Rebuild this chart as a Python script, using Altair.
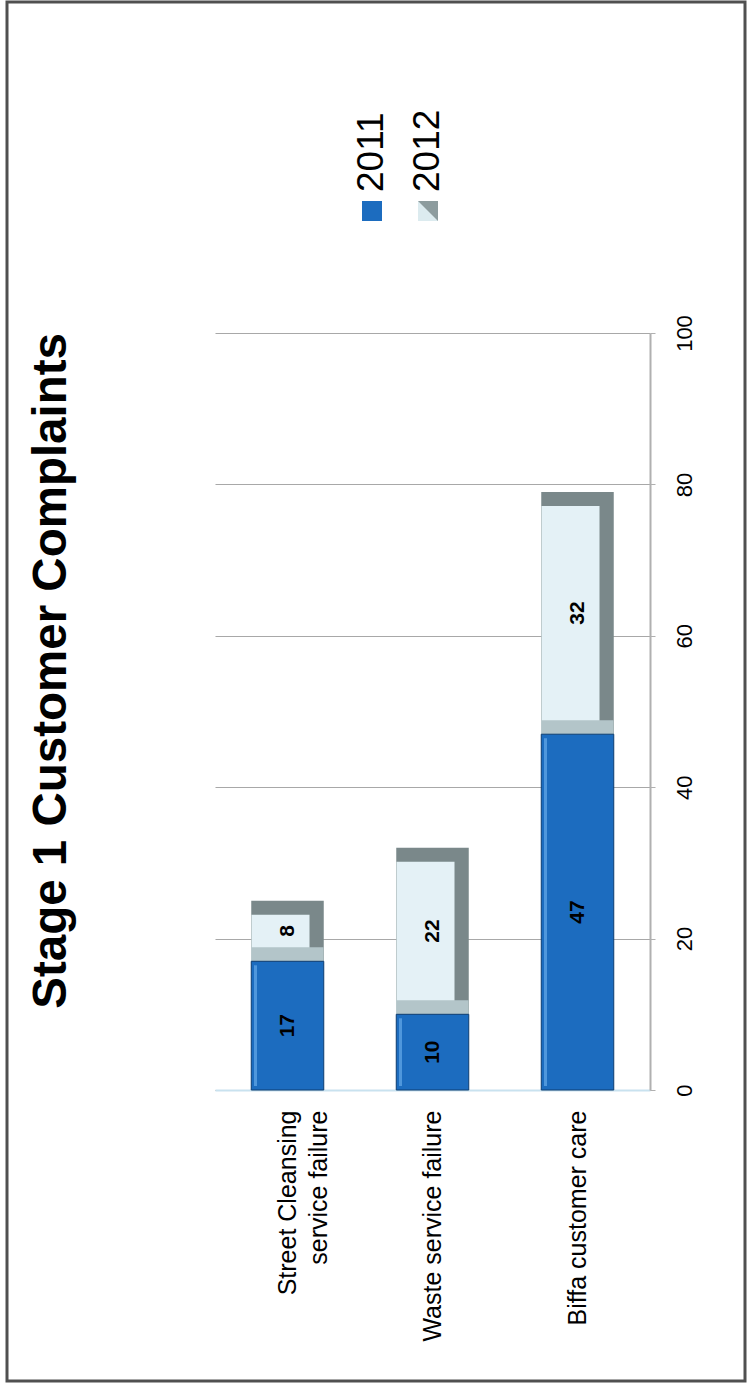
import altair as alt
import pandas as pd

categories = ["Street Cleansing service failure", "Waste service failure", "Biffa customer care"]
v2011 = [17, 10, 47]
v2012 = [8, 22, 32]
years = ["2011", "2012"]
y_ticks = [0, 20, 40, 60, 80, 100]

FONT = "Liberation Sans"
BLUE = "#1c6cbf"
LIGHT = "#e4f1f6"
BEVEL_DARK = "#7a888a"
BEVEL_LIGHT = "#b3c5c9"

df = pd.DataFrame({"category": categories, "v2011": v2011, "v2012": v2012})
df["total"] = df["v2011"] + df["v2012"]
df["mid2011"] = df["v2011"] / 2
df["mid2012"] = df["v2011"] + df["v2012"] / 2

x_scale = alt.Scale(domain=categories, paddingInner=0.5, paddingOuter=0.25)
x_axis = alt.Axis(
    title=None, labelAngle=270, labelAlign="right", labelBaseline="middle",
    labelFontSize=25, labelFont=FONT, labelColor="black", labelPadding=20,
    labelLineHeight=31, labelLimit=500, tickSize=0, domainColor="#c9e2ef", domainWidth=2,
    grid=False,
    labelExpr="datum.value == 'Street Cleansing service failure' ? ['Street Cleansing', 'service failure'] : datum.label",
)
x_enc = alt.X("category:N", scale=x_scale, axis=x_axis, sort=categories)

y_scale = alt.Scale(domain=[0, 100])
y_axis = alt.Axis(
    orient="right", values=y_ticks, title=None, labelAngle=270, labelAlign="center",
    labelBaseline="top", labelFontSize=22, labelFont=FONT, labelColor="black",
    labelPadding=19, tickSize=5, tickColor="#b0b0b0", domainColor="#b0b0b0",
    domainWidth=2, gridColor="#a8a8a8", gridWidth=1.2,
)


def Y(field):
    return alt.Y(field, scale=y_scale, axis=y_axis)


base = alt.Chart(df)

gray12 = base.mark_bar(color=BEVEL_DARK).encode(x=x_enc, y=Y("total:Q"), y2="v2011:Q")
light12 = base.mark_bar(color=LIGHT, size=58, xOffset=-7, yOffset=14).encode(
    x=x_enc, y=Y("total:Q"), y2="v2011:Q"
)
bottom_bevel = base.mark_tick(color=BEVEL_LIGHT, thickness=14, size=72, yOffset=-7, opacity=1).encode(
    x=x_enc, y=Y("v2011:Q")
)
blue11 = base.mark_bar(color=BLUE, stroke="#0d3d70", strokeWidth=1).encode(x=x_enc, y=Y("v2011:Q"))
blue_edge = base.mark_bar(color="#4f97dc", size=3, xOffset=-32, yOffset=4, y2Offset=-4).encode(
    x=x_enc, y=Y("v2011:Q"), y2=alt.Y2(datum=0)
)
lbl11 = base.mark_text(angle=270, fontSize=21, fontWeight="bold", font=FONT, color="black",
                       align="center", baseline="middle").encode(
    x=x_enc, y=Y("mid2011:Q"), text="v2011:Q"
)
lbl12 = base.mark_text(angle=270, fontSize=21, fontWeight="bold", font=FONT, color="black",
                       align="center", baseline="middle").encode(
    x=x_enc, y=Y("mid2012:Q"), text="v2012:Q"
)

# legend (drawn rotated like the reference)
legend_df = pd.DataFrame({"year": years})
legend_x = {"2011": 157, "2012": 213}
legend_fill = {"2011": BLUE, "2012": "#dcebef"}
legend_layers = []
for yr in years:
    one = alt.Chart(legend_df).transform_filter(f"datum.year == '{yr}'")
    legend_layers.append(one.mark_square(size=400, opacity=1, color=legend_fill[yr]).encode(
        x=alt.value(legend_x[yr]), y=alt.value(-122)))
    if yr == "2012":
        legend_layers.append(one.mark_point(
            shape="M1,-1L1,1L-1,-1Z", size=400, filled=True, color="#8d9c9e", opacity=1
        ).encode(x=alt.value(legend_x[yr]), y=alt.value(-122)))
    legend_layers.append(one.mark_text(angle=270, align="left", baseline="middle",
                                       fontSize=37, font=FONT, color="black").encode(
        x=alt.value(legend_x[yr]), y=alt.value(-141), text="year:N"))

frame = alt.Chart(pd.DataFrame({"a": [0]})).mark_rect(
    fillOpacity=0, stroke="#505050", strokeWidth=3
).encode(x=alt.value(-208), x2=alt.value(530), y=alt.value(-331), y2=alt.value(1048))

chart = alt.layer(
    gray12, light12, bottom_bevel, blue11, blue_edge, lbl11, lbl12, frame, *legend_layers
).properties(
    width=435, height=757,
    background="white",
    title=alt.TitleParams("Stage 1 Customer Complaints", orient="left", anchor="end", frame="group",
                          fontSize=47.5, font=FONT, fontWeight="bold", color="black", offset=-70),
    autosize=alt.AutoSizeParams(type="none"),
    padding={"left": 215, "top": 333, "right": 102, "bottom": 297},
).configure_view(stroke="transparent", strokeWidth=0)

chart.save("out.html", embed_options={"renderer": "svg", "actions": False})
